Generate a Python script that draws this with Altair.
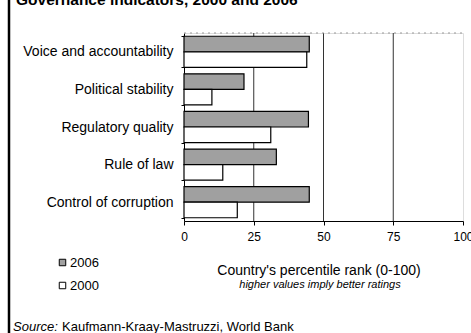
import altair as alt
import pandas as pd

categories = ["Voice and accountability", "Political stability", "Regulatory quality",
              "Rule of law", "Control of corruption"]
values_2006 = [44.9, 21.5, 44.6, 33.1, 44.9]
values_2000 = [44.0, 10.0, 31.1, 13.9, 19.1]
years = ["2006", "2000"]
x_ticks = [0, 25, 50, 75, 100]
grid_vals = [25, 50, 75]

title_text = "Governance indicators, 2000 and 2006"
axis_title = "Country's percentile rank (0-100)"
axis_subtitle = "higher values imply better ratings"
source_label = "Source:"
source_text = "Kaufmann-Kraay-Mastruzzi, World Bank"

rows = []
for c, a, b in zip(categories, values_2006, values_2000):
    rows.append({"category": c, "year": "2006", "value": a})
    rows.append({"category": c, "year": "2000", "value": b})
df = pd.DataFrame(rows)

FONT = "Liberation Sans"
W, H = 279, 188

bars = alt.Chart(df).mark_bar(stroke="black", strokeWidth=1.2).encode(
    x=alt.X("value:Q", scale=alt.Scale(domain=[0, 100], nice=False),
            axis=alt.Axis(values=x_ticks, title=None, grid=False, tickSize=4,
                          labelFontSize=12, labelColor="black", labelFlush=False,
                          labelOverlap=False, labelPadding=6, domainColor="black",
                          tickColor="black", labelFont=FONT)),
    y=alt.Y("category:N", sort=categories,
            scale=alt.Scale(paddingInner=0.173, paddingOuter=0.0865),
            axis=alt.Axis(title=None, tickBand="extent", tickSize=3, labelPadding=8,
                          labelFontSize=14, labelColor="black", domainColor="black",
                          tickColor="black", labelFont=FONT)),
    yOffset=alt.YOffset("year:N", sort=years, scale=alt.Scale(paddingInner=0, paddingOuter=0)),
    color=alt.Color("year:N", sort=years,
                    scale=alt.Scale(domain=years, range=["#a0a0a0", "white"]),
                    legend=alt.Legend(orient="none", legendX=-128, legendY=223, title=None,
                                      symbolType="square", symbolSize=42,
                                      symbolStrokeColor="black", symbolStrokeWidth=1,
                                      labelFontSize=13, labelFont=FONT, labelColor="black",
                                      rowPadding=9, labelOffset=1, padding=0)),
)

grid = alt.Chart(pd.DataFrame({"value": grid_vals})).mark_rule(
    color="#333333", strokeWidth=1).encode(
    x="value:Q", y=alt.value(0), y2=alt.value(H))

one = pd.DataFrame({"k": [0]})
top_line = alt.Chart(one).mark_rule(color="#999999", strokeDash=[2, 4], strokeWidth=1).encode(
    y=alt.value(0), x=alt.value(0), x2=alt.value(W))
left_border = alt.Chart(one).mark_rule(color="black", strokeWidth=2.5).encode(
    x=alt.value(-175), y=alt.value(-40), y2=alt.value(320))

def txt(text, x, y, size, align="left", style="normal", weight="normal", baseline="middle"):
    return alt.Chart(one).mark_text(
        text=text, align=align, baseline=baseline, fontSize=size, font=FONT,
        fontStyle=style, fontWeight=weight, color="black").encode(
        x=alt.value(x), y=alt.value(y))

title = txt(title_text, -168, -28, 15.5, weight="bold", baseline="alphabetic")
xt = txt(axis_title, 135, 238, 14, align="center")
xs = txt(axis_subtitle, 136, 252, 11, align="center", style="italic")
s1 = txt(source_label, -171, 294, 13, style="italic")
s2 = txt(source_text, -122, 294, 13)

chart = alt.layer(grid, top_line, bars, left_border, title, xt, xs, s1, s2).properties(
    width=W, height=H,
    autosize=alt.AutoSizeParams(type="none"),
    padding={"left": 184, "top": 33, "right": 8, "bottom": 112},
).configure_view(stroke=None).configure(font=FONT, background="white")

chart.save("out.html", embed_options={"renderer": "svg", "actions": False})
